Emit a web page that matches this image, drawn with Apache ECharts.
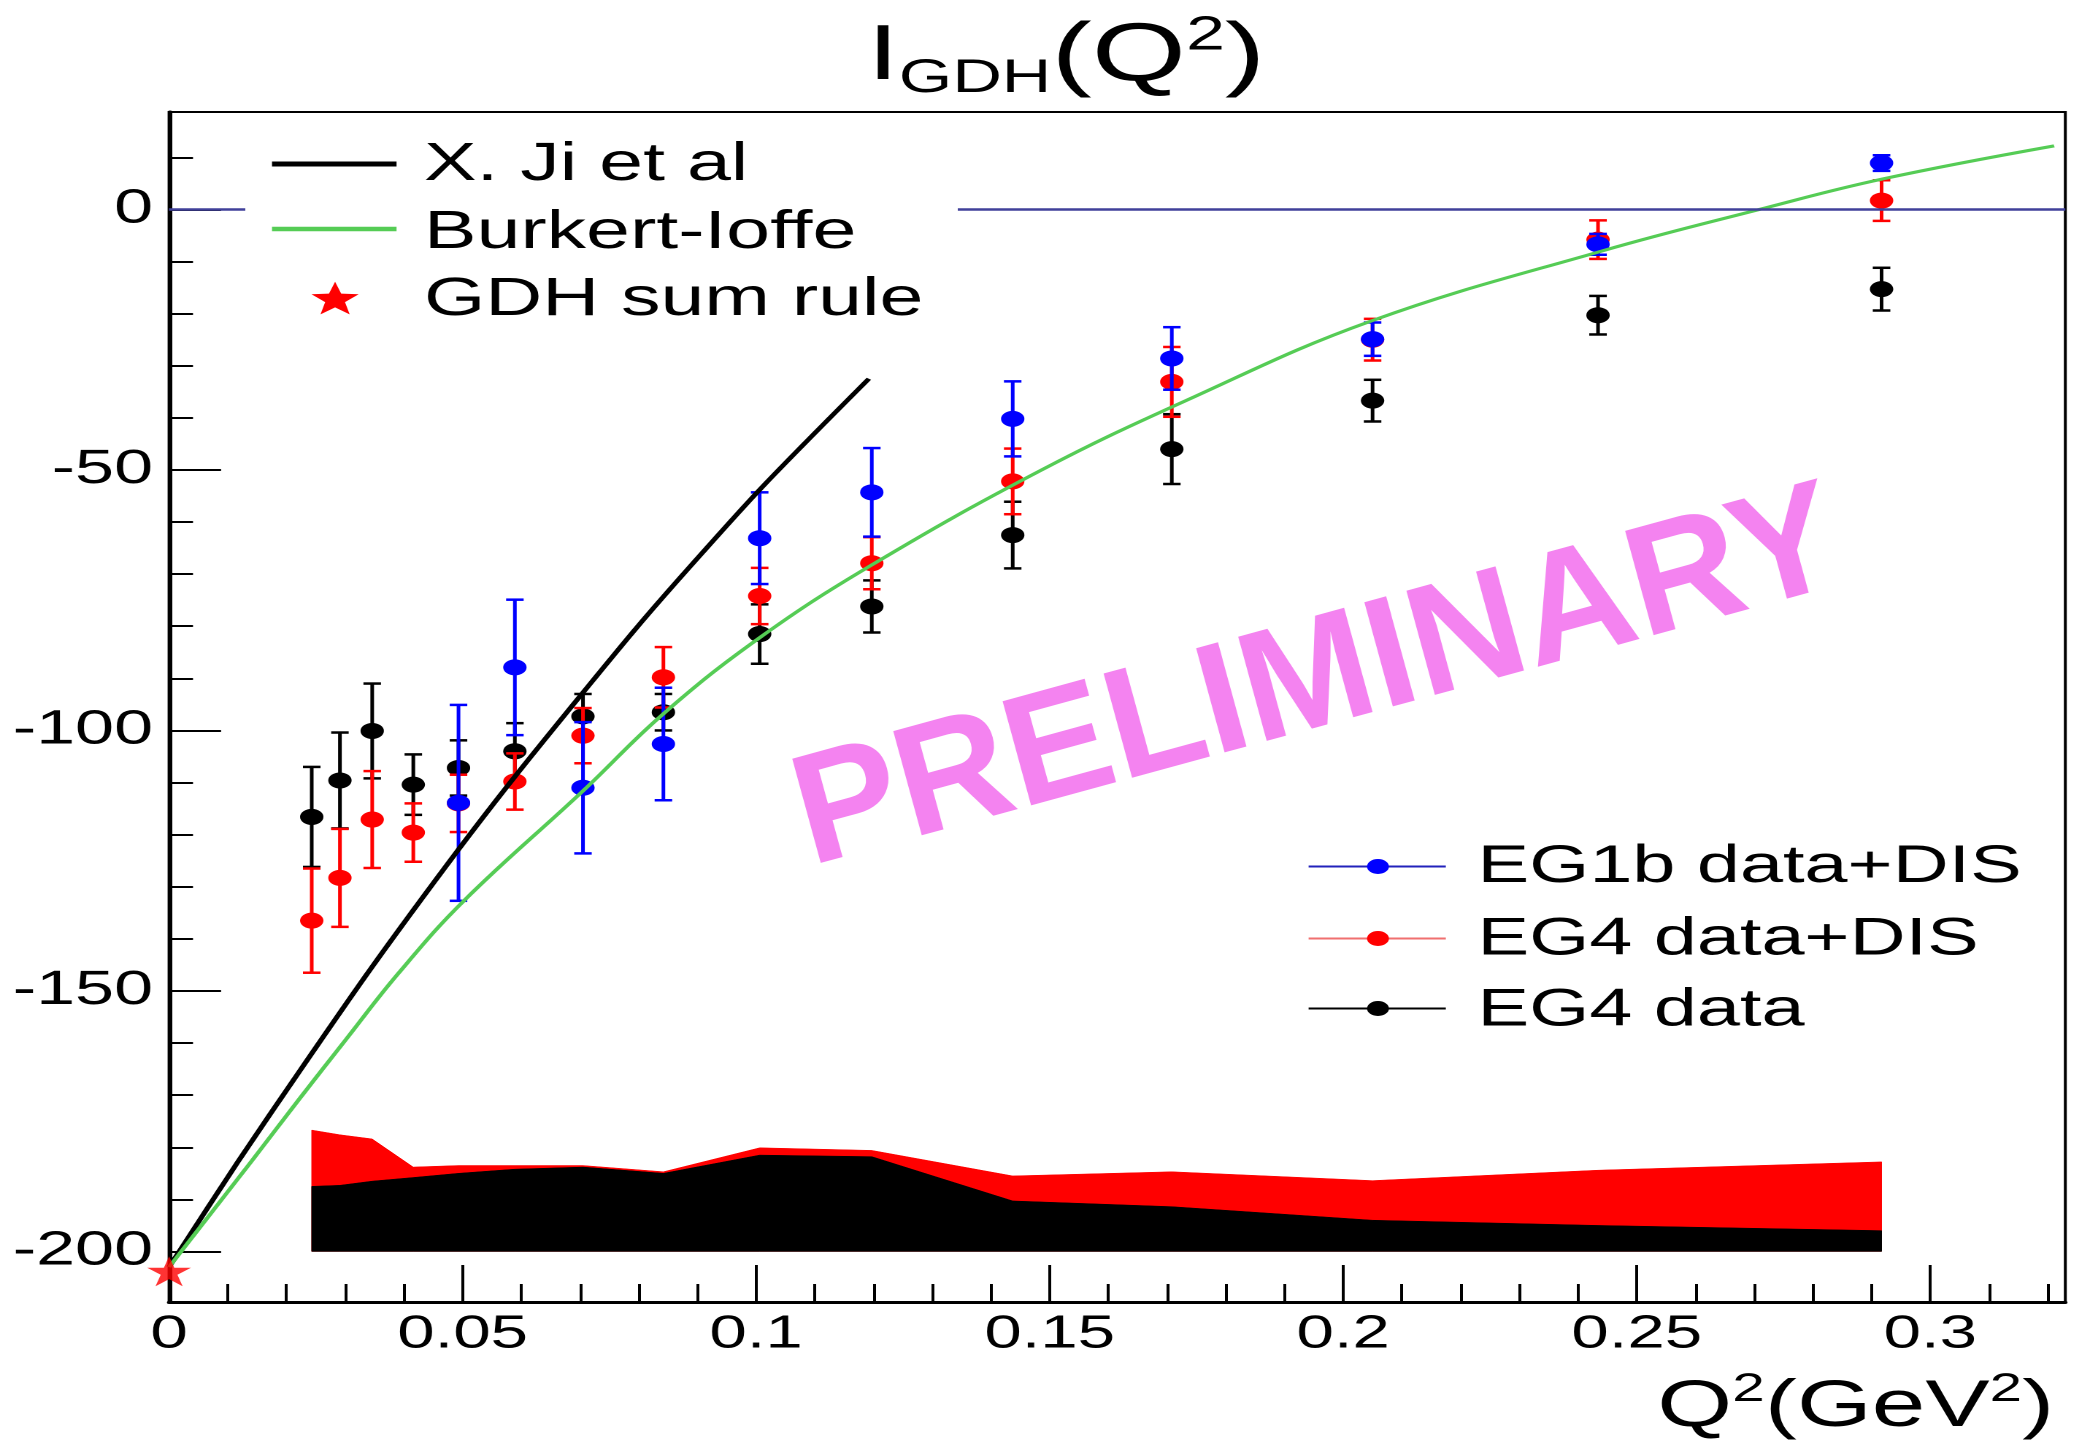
<!DOCTYPE html>
<html>
<head>
<meta charset="utf-8">
<script src="https://cdn.jsdelivr.net/npm/echarts@6.0.0/dist/echarts.min.js"></script>
<style>
  html, body { margin: 0; padding: 0; background: #fff; width: 2079px; height: 1445px; overflow: hidden; }
  #chart { width: 1424px; height: 1445px; transform: scaleX(1.46); transform-origin: 0 0; }
</style>
</head>
<body>
<div id="chart"></div>
<script>
// ---------------- data ----------------
const q2 = [0.0243, 0.0291, 0.0346, 0.0416, 0.0493, 0.0589, 0.0705, 0.0842, 0.1006, 0.1197, 0.1437, 0.1708, 0.2050, 0.2434, 0.2917];

const eg4Data    = [-116.6, -109.6, -100.1, -110.4, -107.2, -104.0, -97.3, -96.5, -81.5, -76.2, -62.5, -46.0, -36.7, -20.3, -15.3];
const eg4DataErr = [9.6, 9.2, 9.1, 5.8, 5.3, 5.4, 4.3, 3.5, 5.7, 5.0, 6.4, 6.7, 4.0, 3.7, 4.1];

const eg4Dis    = [-136.5, -128.3, -117.1, -119.6, -114.0, -109.8, -101.0, -89.8, -74.2, -67.9, -52.2, -33.1, -25.0, -5.8, 1.7];
const eg4DisErr = [10.0, 9.4, 9.3, 5.6, 5.5, 5.4, 5.3, 5.8, 5.4, 5.0, 6.3, 6.7, 4.0, 3.7, 3.9];

const eg1bQ2  = [0.0493, 0.0589, 0.0705, 0.0842, 0.1006, 0.1197, 0.1437, 0.1708, 0.2050, 0.2434, 0.2917];
const eg1b    = [-113.9, -87.9, -111.0, -102.6, -63.1, -54.3, -40.2, -28.6, -24.9, -6.7, 8.9];
const eg1bErr = [18.8, 13.0, 12.6, 10.8, 8.8, 8.5, 7.2, 6.0, 3.2, 2.0, 1.5];

// systematic bands (upper edges, base at -200)
const sysBase  = -200;
const sysTotal = [-176.7, -177.6, -178.4, -183.8, -183.5, -183.5, -183.5, -184.7, -180.1, -180.6, -185.5, -184.7, -186.4, -184.4, -182.8];
const sysEG4   = [-187.5, -187.3, -186.5, -185.8, -185.0, -184.2, -183.8, -185.0, -181.5, -181.8, -190.3, -191.4, -194.0, -195.0, -196.0];

// theory curves
const jiQ2  = [0, 0.0116, 0.0232, 0.0345, 0.0492, 0.0593, 0.0706, 0.0797, 0.0887, 0.1011, 0.1192];
const jiVal = [-203, -183.0, -163.8, -145.5, -123.0, -108.3, -92.6, -80.2, -68.6, -53.2, -32.5];

const biQ2  = [0, 0.004, 0.0141, 0.022, 0.030, 0.039, 0.0503, 0.0706, 0.0842, 0.1006, 0.1196, 0.1483, 0.1732, 0.2048, 0.2443, 0.2709, 0.2917, 0.3211];
const biVal = [-203, -197.2, -182.6, -171.0, -159.5, -146.7, -132.6, -111.5, -96.8, -82.2, -68.3, -50.2, -36.7, -21.4, -7.9, 0.0, 5.8, 12.2];

// GDH sum rule point
const gdhQ2  = [0];
const gdhVal = [-203.8];

// axes
const xMin = 0, xMax = 0.323;
const yMin = -209.7, yMax = 18.7;
const xMajor = [0, 0.05, 0.1, 0.15, 0.2, 0.25, 0.3];
const xTickLabels = ['0', '0.05', '0.1', '0.15', '0.2', '0.25', '0.3'];
const xMinor = [0.01, 0.02, 0.03, 0.04, 0.06, 0.07, 0.08, 0.09, 0.11, 0.12, 0.13, 0.14, 0.16, 0.17, 0.18, 0.19, 0.21, 0.22, 0.23, 0.24, 0.26, 0.27, 0.28, 0.29, 0.31, 0.32];
const yMajor = [-200, -150, -100, -50, 0];
const yTickLabels = ['-200', '-150', '-100', '-50', '0'];
const yMinor = [-190, -180, -170, -160, -140, -130, -120, -110, -90, -80, -70, -60, -40, -30, -20, -10, 10];

// ---------------- styling ----------------
const FONT = '"Liberation Sans", Arial, Helvetica, sans-serif';
const STAR_D = 'M0,-50 L11.23,-15.45 L47.55,-15.45 L18.17,5.9 L29.39,40.45 L0,19.1 L-29.39,40.45 L-18.17,5.9 L-47.55,-15.45 L-11.23,-15.45 Z';
const GREEN = '#55cc55';

function starPoints(cx, cy, rx, ry) {
  const pts = [];
  for (let k = 0; k < 10; k++) {
    const a = (-90 + k * 36) * Math.PI / 180;
    const f = (k % 2 === 0) ? 1 : 0.42;
    pts.push([cx + rx * f * Math.cos(a), cy + ry * f * Math.sin(a) + ry * 0.1]);
  }
  return pts;
}

function bandRenderer(tops, color) {
  return function (params, api) {
    if (params.dataIndex !== 0) return null;
    const pts = [];
    for (let i = 0; i < q2.length; i++) pts.push(api.coord([q2[i], tops[i]]));
    for (let i = q2.length - 1; i >= 0; i--) pts.push(api.coord([q2[i], sysBase]));
    return { type: 'polygon', shape: { points: pts }, style: { fill: color, stroke: color, lineWidth: 0.5 } };
  };
}

function errRenderer(color) {
  return function (params, api) {
    const x = api.value(0), y = api.value(1), e = api.value(2);
    const c = api.coord([x, y]);
    const t = api.coord([x, y + e]);
    const b = api.coord([x, y - e]);
    const hw = 6;
    const st = { stroke: color, lineWidth: 2.5, fill: null };
    return {
      type: 'group',
      children: [
        { type: 'line', shape: { x1: c[0], y1: t[1], x2: c[0], y2: b[1] }, style: st },
        { type: 'line', shape: { x1: c[0] - hw, y1: t[1], x2: c[0] + hw, y2: t[1] }, style: st },
        { type: 'line', shape: { x1: c[0] - hw, y1: b[1], x2: c[0] + hw, y2: b[1] }, style: st },
        { type: 'circle', shape: { cx: c[0], cy: c[1], r: 8 }, style: { fill: color } }
      ]
    };
  };
}

const zip2 = (xs, ys) => xs.map((x, i) => [x, ys[i]]);
const zip3 = (xs, ys, es) => xs.map((x, i) => [x, ys[i], es[i]]);

const legendText = (txt, x, y, size) => ({
  type: 'text', x: x, y: y, z: 52,
  style: { text: txt, font: size + 'px ' + FONT, fill: '#000', align: 'left', verticalAlign: 'middle' }
});

const option = {
  animation: false,
  backgroundColor: '#fff',
  title: [
    {
      text: '{i|I}{sub|GDH}{p|(Q}{sup|2}{p|)}',
      left: 594, top: 12.5, padding: 0,
      textStyle: {
        fontFamily: FONT, fontWeight: 'normal', color: '#000',
        rich: {
          i:   { fontFamily: FONT, fontSize: 78, lineHeight: 90, color: '#000' },
          sub: { fontFamily: FONT, fontSize: 47, lineHeight: 19, verticalAlign: 'bottom', color: '#000' },
          p:   { fontFamily: FONT, fontSize: 83, lineHeight: 90, color: '#000' },
          sup: { fontFamily: FONT, fontSize: 48, lineHeight: 40, verticalAlign: 'top', color: '#000' }
        }
      }
    },
    {
      text: '{p|Q}{sup|2}{p|(GeV}{sup|2}{p|)}',
      right: 17, top: 1370, padding: 0,
      textStyle: {
        fontFamily: FONT, fontWeight: 'normal', color: '#000',
        rich: {
          p:   { fontFamily: FONT, fontSize: 66, lineHeight: 76, color: '#000' },
          sup: { fontFamily: FONT, fontSize: 40, lineHeight: 34, verticalAlign: 'top', color: '#000' }
        }
      }
    }
  ],
  grid: { left: 115.8, right: 9.4, top: 112, bottom: 143, show: true, borderColor: '#000', borderWidth: 2, backgroundColor: 'transparent' },
  xAxis: [
    {
      type: 'value', min: xMin, max: xMax, position: 'bottom',
      axisLine: { show: true, onZero: false, lineStyle: { color: '#000', width: 3 } },
      axisTick: { show: true, inside: true, length: 37, lineStyle: { color: '#000', width: 2 }, customValues: xMajor },
      axisLabel: {
        show: true, customValues: xMajor, color: '#000', fontFamily: FONT, fontSize: 46, margin: 10,
        formatter: function (v) { const i = xMajor.indexOf(v); return i >= 0 ? xTickLabels[i] : String(v); }
      },
      splitLine: { show: false }
    },
    {
      type: 'value', min: xMin, max: xMax, position: 'bottom',
      axisLine: { show: false, onZero: false },
      axisTick: { show: true, inside: true, length: 18, lineStyle: { color: '#000', width: 2 }, customValues: xMinor },
      axisLabel: { show: false },
      splitLine: { show: false }
    }
  ],
  yAxis: [
    {
      type: 'value', min: yMin, max: yMax, position: 'left',
      axisLine: { show: true, onZero: false, lineStyle: { color: '#000', width: 3 } },
      axisTick: { show: true, inside: true, length: 35.6, lineStyle: { color: '#000', width: 2 }, customValues: yMajor },
      axisLabel: {
        show: true, customValues: yMajor, color: '#000', fontFamily: FONT, fontSize: 48, margin: 11,
        formatter: function (v) { const i = yMajor.indexOf(v); return i >= 0 ? yTickLabels[i] : String(v); }
      },
      splitLine: { show: false }
    },
    {
      type: 'value', min: yMin, max: yMax, position: 'left',
      axisLine: { show: false, onZero: false },
      axisTick: { show: true, inside: true, length: 16.4, lineStyle: { color: '#000', width: 2 }, customValues: yMinor },
      axisLabel: { show: false },
      splitLine: { show: false }
    }
  ],
  series: [
    {
      type: 'custom', name: 'sys total', xAxisIndex: 0, yAxisIndex: 0, z: 1,
      renderItem: bandRenderer(sysTotal, '#ff0000'),
      encode: { x: 0, y: 1 }, data: zip2(q2, sysTotal)
    },
    {
      type: 'custom', name: 'sys EG4', xAxisIndex: 0, yAxisIndex: 0, z: 1,
      renderItem: bandRenderer(sysEG4, '#000000'),
      encode: { x: 0, y: 1 }, data: zip2(q2, sysEG4)
    },
    {
      type: 'line', name: 'X. Ji et al', xAxisIndex: 0, yAxisIndex: 0,
      data: zip2(jiQ2, jiVal), showSymbol: false, symbol: 'none', smooth: 0.3,
      lineStyle: { color: '#000', width: 3.7 }, itemStyle: { color: '#000' },
      markLine: {
        silent: true, symbol: 'none', label: { show: false },
        lineStyle: { color: '#40409a', width: 2.5, type: 'solid' },
        data: [{ yAxis: 0 }]
      }
    },
    {
      type: 'line', name: 'Burkert-Ioffe', xAxisIndex: 0, yAxisIndex: 0,
      data: zip2(biQ2, biVal), showSymbol: false, symbol: 'none', smooth: 0.4,
      lineStyle: { color: GREEN, width: 3 }, itemStyle: { color: GREEN }
    },
    {
      type: 'custom', name: 'EG4 data', xAxisIndex: 0, yAxisIndex: 0, z: 3,
      renderItem: errRenderer('#000000'), encode: { x: 0, y: 1 },
      data: zip3(q2, eg4Data, eg4DataErr)
    },
    {
      type: 'custom', name: 'EG4 data+DIS', xAxisIndex: 0, yAxisIndex: 0, z: 3,
      renderItem: errRenderer('#ff0000'), encode: { x: 0, y: 1 },
      data: zip3(q2, eg4Dis, eg4DisErr)
    },
    {
      type: 'custom', name: 'EG1b data+DIS', xAxisIndex: 0, yAxisIndex: 0, z: 3,
      renderItem: errRenderer('#0000ff'), encode: { x: 0, y: 1 },
      data: zip3(eg1bQ2, eg1b, eg1bErr)
    },
    {
      type: 'scatter', name: 'GDH sum rule', xAxisIndex: 0, yAxisIndex: 0, z: 6, clip: false,
      symbol: 'path://' + STAR_D, symbolSize: [30, 30],
      itemStyle: { color: '#ff0000' },
      data: zip2(gdhQ2, gdhVal)
    }
  ],
  graphic: [
    // top-left legend
    { type: 'rect', z: 50, shape: { x: 168, y: 122, width: 488, height: 208 }, style: { fill: '#ffffff' } },
    { type: 'line', z: 51, shape: { x1: 186.3, y1: 164, x2: 271.6, y2: 164 }, style: { stroke: '#000', lineWidth: 5 } },
    { type: 'line', z: 51, shape: { x1: 186.3, y1: 229, x2: 271.6, y2: 229 }, style: { stroke: GREEN, lineWidth: 4.5 } },
    { type: 'polygon', z: 51, shape: { points: starPoints(229.5, 298, 17, 18) }, style: { fill: '#ff0000' } },
    legendText('X. Ji et al', 290.4, 165, 54),
    legendText('Burkert-Ioffe', 290.4, 233, 54),
    legendText('GDH sum rule', 290.4, 300, 54),
    // bottom-right legend
    { type: 'line', z: 51, shape: { x1: 896.3, y1: 866.5, x2: 990.3, y2: 866.5 }, style: { stroke: '#2222bb', lineWidth: 2 } },
    { type: 'circle', z: 51, shape: { cx: 943.8, cy: 866.5, r: 7.5 }, style: { fill: '#0000ff' } },
    { type: 'line', z: 51, shape: { x1: 896.3, y1: 938.5, x2: 990.3, y2: 938.5 }, style: { stroke: '#f07070', lineWidth: 2 } },
    { type: 'circle', z: 51, shape: { cx: 943.8, cy: 938.5, r: 7.5 }, style: { fill: '#ff0000' } },
    { type: 'line', z: 51, shape: { x1: 896.3, y1: 1008.5, x2: 990.3, y2: 1008.5 }, style: { stroke: '#000', lineWidth: 2 } },
    { type: 'circle', z: 51, shape: { cx: 943.8, cy: 1008.5, r: 7.5 }, style: { fill: '#000' } },
    legendText('EG1b data+DIS', 1012, 867.5, 53),
    legendText('EG4 data+DIS', 1012, 940, 53),
    legendText('EG4 data', 1012, 1011, 53),
    // PRELIMINARY watermark (not stretched: counter-scaled group)
    {
      type: 'group', scaleX: 1 / 1.46, z: 4,
      children: [
        {
          type: 'text', x: 1318, y: 682, rotation: 15.3 * Math.PI / 180, z: 4,
          style: { text: 'PRELIMINARY', font: 'bold 157px ' + FONT, fill: '#f483f0', align: 'center', verticalAlign: 'middle' }
        }
      ]
    }
  ]
};

const chart = echarts.init(document.getElementById('chart'), null, { renderer: 'canvas', devicePixelRatio: 2 });
chart.setOption(option);
</script>
</body>
</html>
